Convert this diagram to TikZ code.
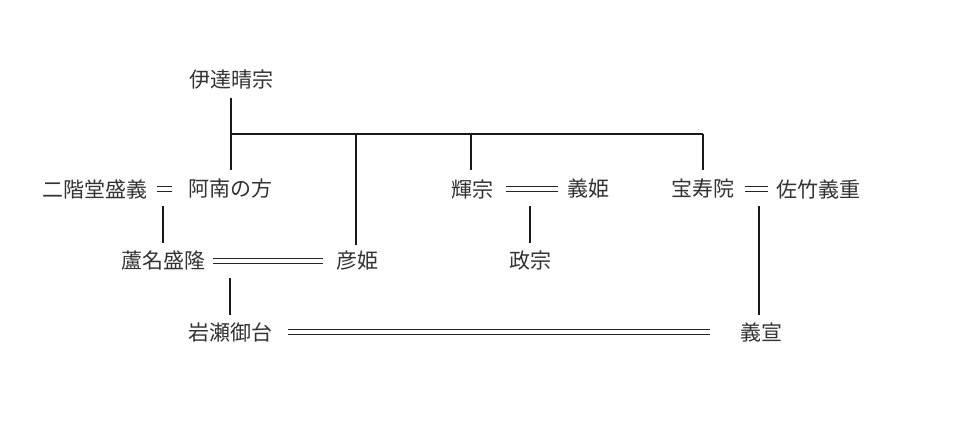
\documentclass[tikz,border=0pt]{standalone}
\usepackage{fontspec}
\newfontfamily\jp{Noto Sans CJK JP}
\begin{document}
\begin{tikzpicture}[x=1pt,y=-1pt,
  person/.style={inner sep=0pt, font=\jp\fontsize{21}{21}\selectfont, text=black!80},
  line/.style={line width=1.1pt, draw=black!90},
  marry/.style={double, double distance=4.5pt, line width=0.9pt, draw=black!85}]
\useasboundingbox (0,0) rectangle (964,445);
\fill[white] (0,0) rectangle (964,445);
% persons
\node[person] (date)   at (231,80)  {伊達晴宗};
\node[person] (nikai)  at (95,189)  {二階堂盛義};
\node[person] (anan)   at (230,189) {阿南の方};
\node[person] (ashina) at (163,261) {蘆名盛隆};
\node[person] (hiko)   at (357,261) {彦姫};
\node[person] (iwase)  at (230,332) {岩瀬御台};
\node[person] (teru)   at (472,189) {輝宗};
\node[person] (yoshi)  at (588,189) {義姫};
\node[person] (masa)   at (530,261) {政宗};
\node[person] (hou)    at (703,189) {宝寿院};
\node[person] (satake) at (818,189) {佐竹義重};
\node[person] (nobu)   at (761,332) {義宣};
% junctions
\coordinate (j0) at (231,134);
\coordinate (j1) at (356,134);
\coordinate (j2) at (471,134);
\coordinate (j3) at (703,134);
\coordinate (m1) at (163,189);
\coordinate (m2) at (530,189);
\coordinate (m3) at (759,189);
\coordinate (m4) at (230,261);
% descent lines
\draw[line] (date.south |- 0,98) -- (j0) -- (j0 |- 0,170);
\draw[line] (j0) -- (j3);
\draw[line] (j1) -- (j1 |- 0,245);
\draw[line] (j2) -- (j2 |- 0,170);
\draw[line] (j3) -- (j3 |- 0,170);
\draw[line] (m1 |- 0,206) -- (m1 |- 0,243);
\draw[line] (m2 |- 0,206) -- (m2 |- 0,243);
\draw[line] (m3 |- 0,206) -- (m3 |- 0,315);
\draw[line] (m4 |- 0,278) -- (m4 |- 0,315);
% marriages
\draw[marry] (nikai.east) ++(9,0) -- ++(15,0);
\draw[marry] (teru.east) ++(13,0) -- ++(52,0);
\draw[marry] (hou.east) ++(10,0) -- ++(23,0);
\draw[marry] (ashina.east) ++(8,0) -- ++(110,0);
\draw[marry] (iwase.east) ++(16,0) -- ++(422,0);
\end{tikzpicture}
\end{document}
